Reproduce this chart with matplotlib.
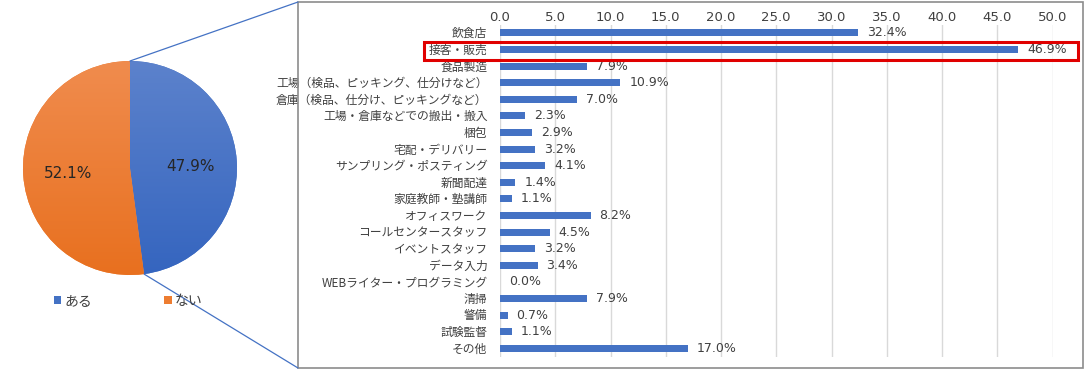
import math
import numpy as np
import matplotlib
matplotlib.use("Agg")
from matplotlib import pyplot as plt
from matplotlib.colors import LinearSegmentedColormap
from matplotlib.patches import Rectangle, ConnectionPatch

plt.rcParams['font.family'] = ['Noto Sans CJK JP', 'DejaVu Sans']

# pie data
pie_labels = ["ある", "ない"]
pie_values = [47.9, 52.1]
pie_colors = ["#4472C4", "#ED7D31"]
# shading top -> bottom for each slice
pie_shades = [("#5C82CC", "#3565BF"), ("#F08C4E", "#E8701F")]

# bar data
jobs = [
    "飲食店", "接客・販売", "食品製造",
    "工場（検品、ピッキング、仕分けなど）",
    "倉庫（検品、仕分け、ピッキングなど）",
    "工場・倉庫などでの搬出・搬入", "梱包", "宅配・デリバリー",
    "サンプリング・ポスティング", "新聞配達", "家庭教師・塾講師",
    "オフィスワーク", "コールセンタースタッフ", "イベントスタッフ",
    "データ入力", "WEBライター・プログラミング", "清掃", "警備",
    "試験監督", "その他",
]
rates = [32.4, 46.9, 7.9, 10.9, 7.0, 2.3, 2.9, 3.2, 4.1, 1.4, 1.1,
         8.2, 4.5, 3.2, 3.4, 0.0, 7.9, 0.7, 1.1, 17.0]
ticks = [0, 5, 10, 15, 20, 25, 30, 35, 40, 45, 50]

W, H = 1085, 371
fig = plt.figure(figsize=(W / 100, H / 100), dpi=100)

def px(x, y):
    return x / W, 1 - y / H

# --- pie ---
cx, cy, r = 130, 168, 107
axp = fig.add_axes([(cx - r) / W, 1 - (cy + r) / H, 2 * r / W, 2 * r / H])
wedges, _ = axp.pie(pie_values, colors=pie_colors, startangle=90,
                    counterclock=False, radius=1)
grad = np.linspace(0, 1, 256).reshape(-1, 1)
for w, (c_top, c_bot) in zip(wedges, pie_shades):
    cmap = LinearSegmentedColormap.from_list("shade", [c_top, c_bot])
    im = axp.imshow(grad, cmap=cmap, extent=(-1, 1, -1, 1), origin="upper",
                    aspect="auto", zorder=w.get_zorder() + 0.1)
    im.set_clip_path(w)
axp.set_xlim(-1, 1)
axp.set_ylim(-1, 1)
axp.axis("off")
axp.text(0.57, 0.01, f"{pie_values[0]:.1f}%", ha="center", va="center",
         fontsize=11, color="#262626", family="DejaVu Sans", zorder=5)
axp.text(-0.58, -0.05, f"{pie_values[1]:.1f}%", ha="center", va="center",
         fontsize=11, color="#262626", family="DejaVu Sans", zorder=5)

fig.legend(wedges, pie_labels, loc="center", bbox_to_anchor=px(128, 301),
           ncol=2, frameon=False, fontsize=10, handlelength=0.55,
           handleheight=0.55, handletextpad=0.2, columnspacing=5.2,
           labelcolor="#404040")

# --- bars ---
x0, x50 = 500, 1052.5
y_top, y_bot = 25, 357
axb = fig.add_axes([x0 / W, 1 - y_bot / H, (x50 - x0) / W, (y_bot - y_top) / H])
pos = list(range(len(jobs)))
axb.barh(pos, rates, height=0.42, color="#4472C4", zorder=3)
axb.set_xlim(0, 50)
axb.set_ylim(19.52, -0.48)
axb.set_yticks(pos)
axb.set_yticklabels([])
for i, name in enumerate(jobs):
    axb.annotate(name, xy=(0, i), xycoords=("axes fraction", "data"),
                 xytext=(-9, 0.5), textcoords="offset points",
                 ha="right", va="center_baseline", fontsize=8.5, color="#404040")
axb.set_xticks(ticks)
axb.set_xticklabels([f"{t:.1f}" for t in ticks], fontsize=9.5,
                    color="#404040", family="DejaVu Sans")
axb.xaxis.tick_top()
axb.tick_params(axis="both", length=0)
axb.tick_params(axis="x", pad=1)
axb.grid(axis="x", color="#D9D9D9", linewidth=1, zorder=0)
for s in axb.spines.values():
    s.set_visible(False)
for i, v in enumerate(rates):
    axb.text(v + 0.8, i, f"{v:.1f}%", va="center", ha="left", fontsize=9,
             color="#404040", family="DejaVu Sans")

# highlight box on 接客・販売
bx0, by0 = px(424, 60)
bx1, by1 = px(1078, 42)
fig.add_artist(Rectangle((bx0, by0), bx1 - bx0, by1 - by0, transform=fig.transFigure,
                         fill=False, edgecolor="#E00000", linewidth=2.2))

# outer frame of bar panel
fx0, fy0 = px(298, 368)
fx1, fy1 = px(1083, 2)
fig.add_artist(Rectangle((fx0, fy0), fx1 - fx0, fy1 - fy0, transform=fig.transFigure,
                         fill=False, edgecolor="#8C8C8C", linewidth=1.2))

# connector lines from pie slice to panel
ang = math.radians(90 - 360 * pie_values[0] / 100)
for pt, corner in [((0, 1), px(298, 2)), ((math.cos(ang), math.sin(ang)), px(298, 368))]:
    con = ConnectionPatch(xyA=pt, coordsA=axp.transData, xyB=corner,
                          coordsB=fig.transFigure, color="#4472C4", linewidth=0.9)
    fig.add_artist(con)

fig.savefig("out.png", dpi=100)
